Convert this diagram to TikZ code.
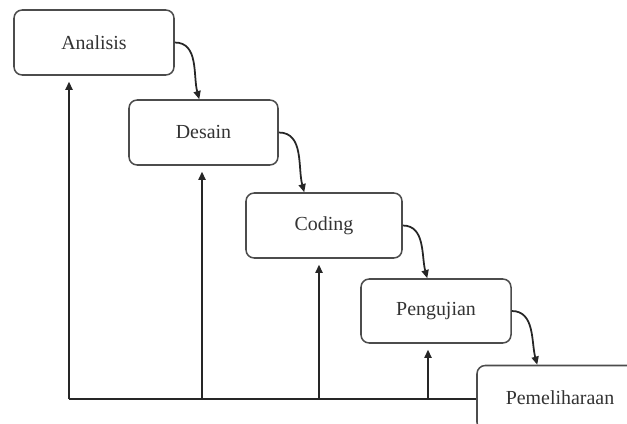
\documentclass[tikz,border=0pt]{standalone}
\usepackage{fontspec}
\setmainfont{Liberation Serif}
\usetikzlibrary{arrows.meta,calc}
\begin{document}
\begin{tikzpicture}[x=0.03cm,y=-0.03cm,
  stagebox/.style={draw=black!70, line width=1.3pt, rounded corners=7pt, fill=white,
    minimum height=1.95cm, inner sep=0pt, text=black!80,
    font=\fontsize{17}{20}\selectfont},
  flow/.style={line width=1.5pt, draw=black!85, -{Triangle[length=7pt,width=6pt]}},
  feed/.style={line width=1.5pt, draw=black!85, -{Triangle[length=7pt,width=6pt]}, shorten >=5pt},
  baseline/.style={line width=1.5pt, draw=black!85}]
\useasboundingbox (0,0) rectangle (627,423);
\clip (0,0) rectangle (627,423);
\node[stagebox, minimum width=4.8cm]  (ana) at (94,42.5) {Analisis};
\node[stagebox, minimum width=4.47cm] (des) at (203.5,132.5) {Desain};
\node[stagebox, minimum width=4.68cm] (cod) at (324,225.5) {Coding};
\node[stagebox, minimum width=4.5cm, minimum height=1.92cm] (pen) at (436,311) {Pengujian};
\node[stagebox, minimum width=4.98cm] (pem) at (560,398) {Pemeliharaan};
% curved flow arrows
\draw[flow] (ana.east) to[out=0,in=105] ($(des.north west)+(71,0)$);
\draw[flow] (des.east) to[out=0,in=105] ($(cod.north west)+(59,0)$);
\draw[flow] (cod.east) to[out=0,in=105] ($(pen.north west)+(67,0)$);
\draw[flow] (pen.east) to[out=0,in=105] ($(pem.north west)+(61,0)$);
% feedback base line
\coordinate (b1) at (69,399);
\coordinate (b2) at (202,399);
\coordinate (b3) at (319,399);
\coordinate (b4) at (428,399);
\draw[baseline] (b1) -- (b1 -| pem.west);
\draw[feed] (b1) -- (b1 |- ana.south);
\draw[feed] (b2) -- (b2 |- des.south);
\draw[feed] (b3) -- (b3 |- cod.south);
\draw[feed] (b4) -- (b4 |- pen.south);
\end{tikzpicture}
\end{document}
